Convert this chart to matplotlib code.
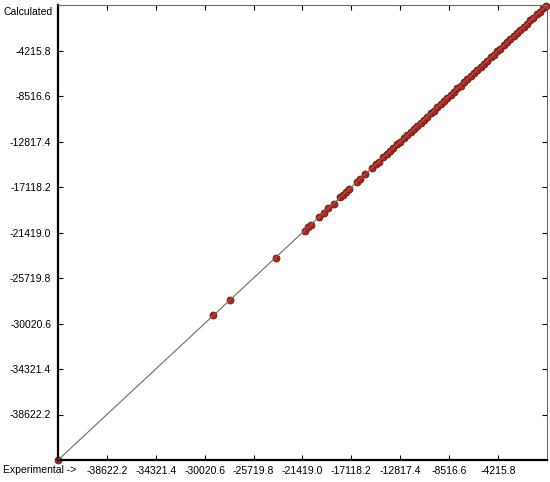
import matplotlib
matplotlib.use("Agg")
import matplotlib.pyplot as plt

plt.rcParams['font.family'] = ['Liberation Sans', 'DejaVu Sans']

# ---- Data ----
experimental = [
    -42923.0, -29291.0, -27796.0, -23750.0,
    -21199.0, -20935.0, -20672.0, -19968.0, -19528.0, -19176.0,
    -18649.0, -18121.0, -17857.0, -17593.0, -17329.0, -16626.0,
    -16362.0, -15922.0, -15307.0, -14955.0, -14691.0, -14339.0,
    -13987.0, -13710.0, -13420.0, -13090.0, -12810.0, -12530.0,
    -12200.0, -11900.0, -11640.0, -11330.0, -11010.0, -10760.0,
    -10450.0, -10150.0, -9880.0, -9560.0, -9270.0, -8990.0,
    -8680.0, -8400.0, -8120.0, -7800.0, -7510.0, -7230.0,
    -6920.0, -6640.0, -6350.0, -6040.0, -5760.0, -5470.0,
    -5170.0, -4880.0, -4600.0, -4300.0, -4010.0, -3720.0,
    -3430.0, -3150.0, -2850.0, -2560.0, -2270.0, -1980.0,
    -1690.0, -1400.0, -1110.0, -820.0, -540.0, -250.0, 0.0,
]
calculated = [
    -42923.0, -29250.0, -27830.0, -23790.0,
    -21230.0, -20900.0, -20700.0, -19940.0, -19560.0, -19150.0,
    -18680.0, -18090.0, -17880.0, -17560.0, -17350.0, -16600.0,
    -16390.0, -15890.0, -15330.0, -14930.0, -14710.0, -14310.0,
    -14010.0, -13690.0, -13440.0, -13070.0, -12830.0, -12510.0,
    -12220.0, -11880.0, -11660.0, -11310.0, -11030.0, -10740.0,
    -10470.0, -10130.0, -9900.0, -9540.0, -9290.0, -8970.0,
    -8700.0, -8380.0, -8140.0, -7780.0, -7530.0, -7210.0,
    -6940.0, -6620.0, -6370.0, -6020.0, -5780.0, -5450.0,
    -5190.0, -4860.0, -4620.0, -4280.0, -4030.0, -3700.0,
    -3450.0, -3130.0, -2870.0, -2540.0, -2290.0, -1960.0,
    -1710.0, -1380.0, -1130.0, -800.0, -560.0, -230.0, 0.0,
]

AXIS_MIN = -42923.0
AXIS_MAX = 85.0
tick_values = [-38622.2, -34321.4, -30020.6, -25719.8, -21419.0,
               -17118.2, -12817.4, -8516.6, -4215.8]
tick_labels = [f"{v:.1f}" for v in tick_values]

fig = plt.figure(figsize=(5.5, 4.82), dpi=100)
ax = fig.add_axes([58 / 550, 22 / 482, 489 / 550, 455 / 482])

ax.plot(experimental, calculated, linestyle='none', marker='o', markersize=5,
        markerfacecolor='#d41414', markeredgecolor='#4a2a18',
        markeredgewidth=0.6, clip_on=False, zorder=2)
ax.axline((0.0, 0.0), slope=1, color='#6e6e5a', linewidth=0.8, zorder=3)

ax.set_xlim(AXIS_MIN, AXIS_MAX)
ax.set_ylim(AXIS_MIN, AXIS_MAX)
ax.set_xticks(tick_values)
ax.set_xticklabels(tick_labels)
ax.set_yticks(tick_values)
ax.set_yticklabels(tick_labels)
ax.tick_params(direction='in', length=3.5, width=0.8, labelsize=7.5,
               top=True, right=True, colors='black')
ax.tick_params(axis='x', pad=4)
ax.tick_params(axis='y', pad=5)

for side in ('left', 'bottom'):
    ax.spines[side].set_linewidth(1.6)
    ax.spines[side].set_color('black')
for side in ('top', 'right'):
    ax.spines[side].set_linewidth(0.8)
    ax.spines[side].set_color('#6a6a6a')

fig.text(4 / 550, 1 - 12 / 482, 'Calculated', fontsize=7.5, va='center', ha='left')
fig.text(3 / 550, 1 - 470 / 482, 'Experimental ->', fontsize=7.5, va='center', ha='left')

fig.savefig('out.png', dpi=100)
